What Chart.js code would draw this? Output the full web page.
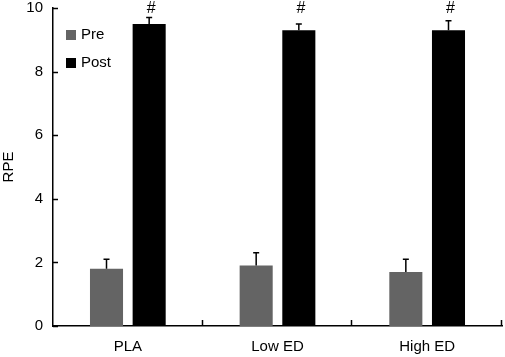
<!DOCTYPE html>
<html>
<head>
<meta charset="utf-8">
<script src="https://cdn.jsdelivr.net/npm/chart.js@4"></script>
<style>
  html, body { margin: 0; padding: 0; background: #fff; }
  #wrap { width: 505px; height: 357px; }
</style>
</head>
<body>
<div id="wrap"><canvas id="rpe_Chart" width="505" height="357"></canvas></div>
<script>
const categories = ['PLA', 'Low ED', 'High ED'];
const preValues = [1.8, 1.9, 1.7];
const preErrors = [0.3, 0.4, 0.4];
const postValues = [9.5, 9.3, 9.3];
const postErrors = [0.2, 0.2, 0.3];
const yTicks = [0, 2, 4, 6, 8, 10];
const markText = '#';

const FONT = 'Liberation Sans, Arial, sans-serif';

// error bars, # marks, inside ticks and the legend
const extras = {
  id: 'extras',
  afterDatasetsDraw(chart) {
    const ctx = chart.ctx;
    const y = chart.scales.y;
    const area = chart.chartArea;
    const errs = [preErrors, postErrors];
    ctx.save();
    ctx.strokeStyle = '#000';
    ctx.lineWidth = 1.5;
    chart.data.datasets.forEach((ds, di) => {
      chart.getDatasetMeta(di).data.forEach((bar, i) => {
        const top = y.getPixelForValue(ds.data[i] + errs[di][i]);
        ctx.beginPath();
        ctx.moveTo(bar.x, bar.y);
        ctx.lineTo(bar.x, top);
        ctx.moveTo(bar.x - 3, top);
        ctx.lineTo(bar.x + 3, top);
        ctx.stroke();
        if (di === 1) {
          ctx.fillStyle = '#000';
          ctx.font = '16px ' + FONT;
          ctx.textAlign = 'center';
          ctx.textBaseline = 'middle';
          ctx.fillText(markText, bar.x + 2, y.getPixelForValue(10) + 1);
        }
      });
    });
    // y ticks pointing inward
    yTicks.forEach(v => {
      const py = Math.round(y.getPixelForValue(v)) + 0.5;
      ctx.beginPath();
      ctx.moveTo(area.left, py);
      ctx.lineTo(area.left + 5, py);
      ctx.stroke();
    });
    // category dividers on the x axis
    for (let i = 1; i <= categories.length; i++) {
      const px = Math.round(area.left + (area.right - area.left) * i / categories.length) - 0.5;
      ctx.beginPath();
      ctx.moveTo(px, area.bottom);
      ctx.lineTo(px, area.bottom - 6);
      ctx.stroke();
    }
    // legend
    ctx.font = '15px ' + FONT;
    ctx.textAlign = 'left';
    ctx.textBaseline = 'middle';
    chart.data.datasets.forEach((ds, di) => {
      const ly = 35 + di * 28;
      ctx.fillStyle = ds.backgroundColor;
      ctx.fillRect(66, ly - 5, 10, 10);
      ctx.fillStyle = '#000';
      ctx.fillText(ds.label, 81, ly);
    });
    ctx.restore();
  }
};

new Chart(document.getElementById('rpe_Chart').getContext('2d'), {
  type: 'bar',
  data: {
    labels: categories,
    datasets: [{
      label: 'Pre',
      data: preValues,
      backgroundColor: '#646464',
      categoryPercentage: 0.57,
      barPercentage: 0.775
    }, {
      label: 'Post',
      data: postValues,
      backgroundColor: '#000000',
      categoryPercentage: 0.57,
      barPercentage: 0.775
    }]
  },
  options: {
    responsive: false,
    animation: false,
    devicePixelRatio: 1,
    layout: { padding: { top: 8, right: 3, left: 0, bottom: 0 } },
    plugins: { legend: { display: false }, tooltip: { enabled: false } },
    scales: {
      x: {
        grid: { display: false, drawTicks: false },
        border: { color: '#000', width: 1.5 },
        ticks: { color: '#000', font: { family: FONT, size: 15 }, padding: 12 },
        afterFit: s => { s.height = 31; s.paddingLeft = 0; s.paddingRight = 0; }
      },
      y: {
        min: 0,
        max: 10,
        afterBuildTicks: s => { s.ticks = yTicks.map(v => ({ value: v })); },
        grid: { display: false, drawTicks: false },
        border: { color: '#000', width: 1.5 },
        ticks: { color: '#000', font: { family: FONT, size: 15 }, padding: 10 },
        title: { display: true, text: 'RPE', color: '#000', font: { family: FONT, size: 15 }, padding: 0 },
        afterFit: s => { s.width = 53; s.paddingTop = 0; s.paddingBottom = 0; }
      }
    }
  },
  plugins: [extras]
});
</script>
</body>
</html>
